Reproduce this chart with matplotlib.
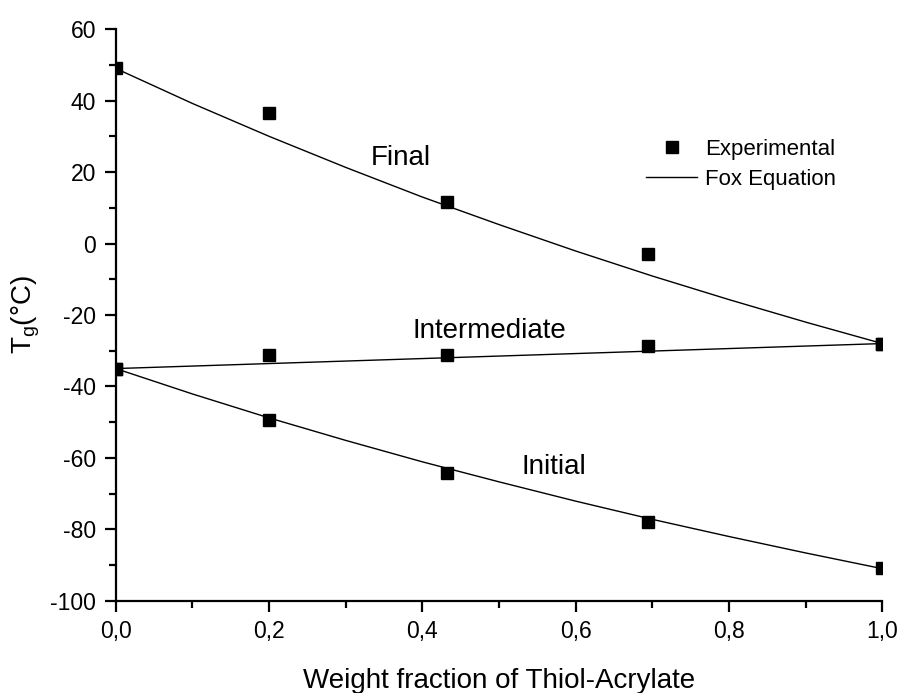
import matplotlib
matplotlib.use('Agg')
import matplotlib.pyplot as plt
from matplotlib.ticker import MultipleLocator, FuncFormatter

plt.rcParams['font.family'] = ['Liberation Sans', 'DejaVu Sans']
plt.rcParams['mathtext.fontset'] = 'custom'
plt.rcParams['mathtext.rm'] = 'Liberation Sans'
plt.rcParams['mathtext.it'] = 'Liberation Sans'

# experimental points
w_exp = [0.0, 0.2, 0.432, 0.695, 1.0]
final_exp = [49.0, 36.5, 11.7, -2.8, -28.0]
inter_exp = [-35.0, -31.3, -31.3, -28.8, -28.0]
initial_exp = [-35.0, -49.5, -64.2, -77.8, -90.7]

# Fox equation curves
w_fox = [0.0, 0.1, 0.2, 0.3, 0.4, 0.5, 0.6, 0.7, 0.8, 0.9, 1.0]
final_fox = [49.0, 39.2, 30.0, 21.3, 13.0, 5.3, -2.1, -9.1, -15.7, -22.0, -28.0]
inter_fox = [-35.0, -34.3, -33.6, -32.9, -32.2, -31.5, -30.8, -30.1, -29.4, -28.7, -28.0]
initial_fox = [-35.0, -42.1, -48.8, -55.1, -61.1, -66.7, -72.1, -77.2, -82.0, -86.6, -91.0]

curve_labels = ['Final', 'Intermediate', 'Initial']
label_pos = [(0.372, 24.0), (0.488, -24.6), (0.571, -62.6)]

fig = plt.figure(figsize=(9.04, 6.93), dpi=100)
ax = fig.add_axes([0.128, 0.133, 0.848, 0.825])

for i, (ye, yf) in enumerate([(final_exp, final_fox), (inter_exp, inter_fox), (initial_exp, initial_fox)]):
    ax.plot(w_fox, yf, color='black', lw=1.0,
            label='Fox Equation' if i == 0 else None)
    ax.plot(w_exp, ye, 's', color='black', ms=9, ls='none',
            label='Experimental' if i == 0 else None)

for text, (x, y) in zip(curve_labels, label_pos):
    ax.text(x, y, text, fontsize=20, ha='center', va='center')

ax.set_xlim(0, 1.0)
ax.set_ylim(-100, 60)
ax.xaxis.set_major_locator(MultipleLocator(0.2))
ax.xaxis.set_minor_locator(MultipleLocator(0.1))
ax.yaxis.set_major_locator(MultipleLocator(20))
ax.yaxis.set_minor_locator(MultipleLocator(10))
ax.xaxis.set_major_formatter(FuncFormatter(lambda v, p: f'{v:.1f}'.replace('.', ',')))
ax.yaxis.set_major_formatter(FuncFormatter(lambda v, p: f'{v:.0f}'))

for s in ['top', 'right']:
    ax.spines[s].set_visible(False)
for s in ['left', 'bottom']:
    ax.spines[s].set_linewidth(1.6)
ax.tick_params(which='major', direction='out', length=8, width=1.6, labelsize=16.5, pad=6)
ax.tick_params(which='minor', direction='out', length=5, width=1.6)

ax.set_xlabel('Weight fraction of Thiol-Acrylate', fontsize=20, labelpad=18)
ax.set_ylabel('T$_\\mathregular{g}$(°C)', fontsize=20, labelpad=6)

handles, labels = ax.get_legend_handles_labels()
order = [labels.index('Experimental'), labels.index('Fox Equation')]
ax.legend([handles[k] for k in order], [labels[k] for k in order],
          loc='upper left', bbox_to_anchor=(0.692, 0.808), frameon=False,
          borderpad=0, borderaxespad=0,
          fontsize=16, handlelength=2.3, handletextpad=0.35, labelspacing=0.4)

fig.savefig('out.png', dpi=100)
